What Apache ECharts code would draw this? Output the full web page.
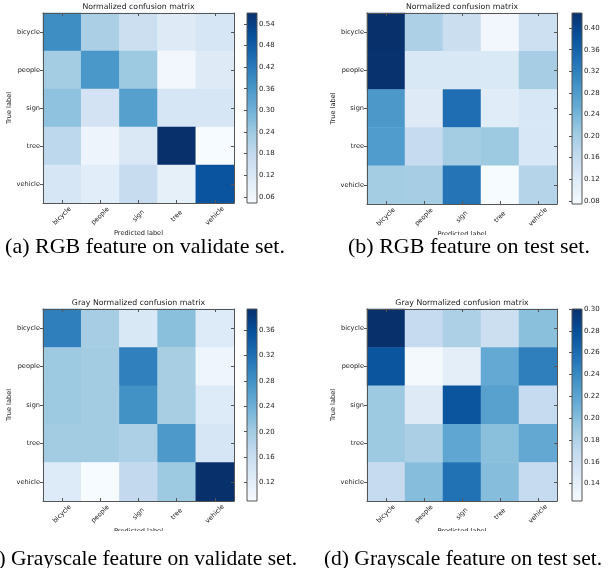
<!DOCTYPE html>
<html>
<head>
<meta charset="utf-8">
<script src="https://cdn.jsdelivr.net/npm/echarts@6/dist/echarts.min.js"></script>
<style>
html,body{margin:0;padding:0;background:#fff;}
#chart{width:611px;height:568px;}
</style>
</head>
<body>
<div id="chart"></div>
<script>
// ---------- data ----------
const categories = ['bicycle', 'people', 'sign', 'tree', 'vehicle'];

// rows = true label, columns = predicted label
const rgbValidate = [
  [0.38, 0.22, 0.16, 0.11, 0.13],
  [0.23, 0.36, 0.24, 0.06, 0.11],
  [0.26, 0.14, 0.34, 0.13, 0.13],
  [0.19, 0.07, 0.12, 0.57, 0.045],
  [0.13, 0.10, 0.17, 0.09, 0.50]
];
const rgbTest = [
  [0.428, 0.19, 0.155, 0.085, 0.15],
  [0.425, 0.127, 0.127, 0.125, 0.198],
  [0.286, 0.118, 0.343, 0.115, 0.13],
  [0.28, 0.162, 0.20, 0.208, 0.13],
  [0.20, 0.198, 0.336, 0.075, 0.18]
];
const grayValidate = [
  [0.302, 0.197, 0.136, 0.218, 0.13],
  [0.204, 0.20, 0.30, 0.195, 0.105],
  [0.205, 0.20, 0.28, 0.195, 0.13],
  [0.20, 0.20, 0.19, 0.27, 0.14],
  [0.13, 0.092, 0.17, 0.205, 0.393]
];
const grayTest = [
  [0.30, 0.168, 0.182, 0.163, 0.198],
  [0.275, 0.127, 0.142, 0.216, 0.247],
  [0.19, 0.146, 0.275, 0.222, 0.168],
  [0.19, 0.183, 0.218, 0.198, 0.217],
  [0.168, 0.20, 0.256, 0.20, 0.168]
];

const colorbarMin = [0.043, 0.074, 0.091, 0.124];
const colorbarMax = [0.57, 0.428, 0.393, 0.30];
const colorbarTicksA = [0.06, 0.12, 0.18, 0.24, 0.30, 0.36, 0.42, 0.48, 0.54];
const colorbarTicksB = [0.08, 0.12, 0.16, 0.20, 0.24, 0.28, 0.32, 0.36, 0.40];
const colorbarTicksC = [0.12, 0.16, 0.20, 0.24, 0.28, 0.32, 0.36];
const colorbarTicksD = [0.14, 0.16, 0.18, 0.20, 0.22, 0.24, 0.26, 0.28, 0.30];

const panelTitles = ['Normalized confusion matrix', 'Normalized confusion matrix',
  'Gray Normalized confusion matrix', 'Gray Normalized confusion matrix'];
const captions = ['(a) RGB feature on validate set.', '(b) RGB feature on test set.',
  '(c) Grayscale feature on validate set.', '(d) Grayscale feature on test set.'];
const xAxisName = 'Predicted label';
const yAxisName = 'True label';

// ---------- styling / layout ----------
const blues = ['#f7fbff', '#deebf7', '#c6dbef', '#9ecae1', '#6baed6', '#4292c6', '#2171b5', '#08519c', '#08306b'];
const matrices = [rgbValidate, rgbTest, grayValidate, grayTest];
const ticks = [colorbarTicksA, colorbarTicksB, colorbarTicksC, colorbarTicksD];
const tickDecimals = 2;

const layout = [
  { mx: 43, my: 13, mw: 191, mh: 190, cx: 247, cw: 10 },
  { mx: 367, my: 13, mw: 190, mh: 191, cx: 572, cw: 10 },
  { mx: 43, my: 309, mw: 191, mh: 192, cx: 247, cw: 10 },
  { mx: 367, my: 309, mw: 190, mh: 192, cx: 572, cw: 10 }
];
const captionPos = [
  { x: 145, y: 236, align: 'center', size: 22 },
  { x: 469, y: 236, align: 'center', size: 22 },
  { x: 297, y: 548, align: 'right', size: 21.5 },
  { x: 463, y: 548, align: 'center', size: 21.5 }
];

const FONT = '"DejaVu Sans", sans-serif';
const TXT = '#222';
const SPINE = '#555';
const SMALL = 6.6;
const CBAR = 7;
const TITLE = 7.8;

const grid = [], xAxis = [], yAxis = [], series = [], visualMap = [], title = [];

matrices.forEach((m, p) => {
  const L = layout[p];
  const gM = grid.length;
  grid.push({ left: L.mx, top: L.my, width: L.mw, height: L.mh, containLabel: false });
  const gC = grid.length;
  grid.push({ left: L.cx, top: L.my, width: L.cw, height: L.mh, containLabel: false });

  const xB = xAxis.length;
  xAxis.push({
    type: 'category', data: categories, gridIndex: gM, position: 'bottom', z: 10,
    axisLine: { show: true, lineStyle: { color: SPINE, width: 1 } },
    axisTick: { show: true, inside: true, length: 3, alignWithLabel: true, lineStyle: { color: SPINE } },
    axisLabel: { rotate: 45, align: 'center', verticalAlign: 'middle', margin: 13, fontSize: SMALL, color: TXT, fontFamily: FONT },
    splitLine: { show: false },
    name: xAxisName, nameLocation: 'middle', nameGap: 24,
    nameTextStyle: { fontSize: SMALL, color: TXT, fontFamily: FONT }
  });
  xAxis.push({
    type: 'category', data: categories, gridIndex: gM, position: 'top', z: 10,
    axisLine: { show: true, lineStyle: { color: SPINE, width: 1 } },
    axisTick: { show: true, inside: true, length: 3, alignWithLabel: true, lineStyle: { color: SPINE } },
    axisLabel: { show: false }, splitLine: { show: false }
  });
  const xC = xAxis.length;
  xAxis.push({ type: 'value', gridIndex: gC, min: 0, max: 1, show: false });

  const yL = yAxis.length;
  yAxis.push({
    type: 'category', data: categories, gridIndex: gM, inverse: true, position: 'left', z: 10,
    axisLine: { show: true, lineStyle: { color: SPINE, width: 1 } },
    axisTick: { show: true, inside: false, length: 3, alignWithLabel: true, lineStyle: { color: SPINE } },
    axisLabel: { fontSize: SMALL, color: TXT, fontFamily: FONT, margin: 3 },
    splitLine: { show: false },
    name: yAxisName, nameLocation: 'middle', nameGap: 22, nameRotate: 90,
    nameTextStyle: { fontSize: SMALL, color: TXT, fontFamily: FONT }
  });
  yAxis.push({
    type: 'category', data: categories, gridIndex: gM, inverse: true, position: 'right', z: 10,
    axisLine: { show: true, lineStyle: { color: SPINE, width: 1 } },
    axisTick: { show: true, inside: true, length: 3, alignWithLabel: true, lineStyle: { color: SPINE } },
    axisLabel: { show: false }, splitLine: { show: false }
  });
  const yC = yAxis.length;
  yAxis.push({
    type: 'value', gridIndex: gC, position: 'right', min: colorbarMin[p], max: colorbarMax[p], z: 10,
    axisLine: { show: false },
    axisTick: { show: true, inside: true, length: 3, customValues: ticks[p], lineStyle: { color: SPINE } },
    axisLabel: {
      show: true, margin: 2, fontSize: CBAR, color: TXT, fontFamily: FONT, customValues: ticks[p],
      formatter: v => v.toFixed(tickDecimals)
    },
    splitLine: { show: false }
  });

  const data = [];
  m.forEach((row, r) => row.forEach((v, c) => data.push([c, r, v])));
  const sIdx = series.length;
  series.push({
    type: 'heatmap', xAxisIndex: xB, yAxisIndex: yL, data: data,
    itemStyle: { borderWidth: 0 }, emphasis: { disabled: true }, progressive: 0
  });
  visualMap.push({
    type: 'continuous', show: false, seriesIndex: sIdx,
    min: colorbarMin[p], max: colorbarMax[p], inRange: { color: blues }
  });

  // colorbar drawn through its own value axis
  series.push({
    type: 'custom', xAxisIndex: xC, yAxisIndex: yC, z: 5, silent: true,
    data: [[0, colorbarMin[p], 1, colorbarMax[p]]],
    renderItem: (params, api) => {
      const tl = api.coord([api.value(0), api.value(3)]);
      const br = api.coord([api.value(2), api.value(1)]);
      const stops = blues.map((c, i) => ({ offset: i / (blues.length - 1), color: c }));
      return {
        type: 'rect',
        shape: { x: tl[0], y: tl[1], width: br[0] - tl[0], height: br[1] - tl[1] },
        style: {
          fill: new echarts.graphic.LinearGradient(0, 1, 0, 0, stops),
          stroke: SPINE, lineWidth: 1
        }
      };
    }
  });

  title.push({
    text: panelTitles[p], left: L.mx + L.mw / 2, top: L.my - 10, textAlign: 'center', padding: 0,
    textStyle: { fontSize: TITLE, fontWeight: 'normal', color: TXT, fontFamily: FONT }
  });
});

const graphic = [];
// mask hiding the lower part of the x axis names (as cropped in the original figure)
[235, 531].forEach((y) => {
  graphic.push({ type: 'rect', left: 0, top: y, z: 100, shape: { width: 611, height: 8 }, style: { fill: '#fff' } });
});
captions.forEach((t, i) => {
  const c = captionPos[i];
  graphic.push({
    type: 'text', z: 101, x: c.x, y: c.y,
    style: { text: t, fill: '#000', font: c.size + 'px "Liberation Serif", serif', align: c.align, verticalAlign: 'top' }
  });
});

const chart = echarts.init(document.getElementById('chart'), null, { renderer: 'canvas' });
chart.setOption({
  animation: false,
  backgroundColor: '#fff',
  title, grid, xAxis, yAxis, visualMap, series, graphic
});
</script>
</body>
</html>
